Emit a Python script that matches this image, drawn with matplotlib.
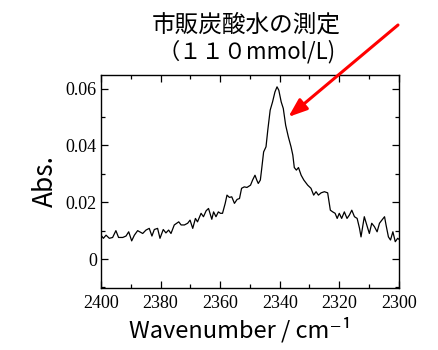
import matplotlib
matplotlib.use("Agg")
import matplotlib.pyplot as plt
from matplotlib.ticker import MultipleLocator

# spectrum (wavenumber / cm-1, absorbance)
wavenumber = [
    2400.0, 2399.2, 2398.3, 2397.2, 2396.1, 2395.0, 2394.1, 2392.7, 2391.6, 2390.7,
    2389.7, 2388.8, 2387.7, 2386.0, 2384.9, 2383.8, 2382.9, 2382.1, 2381.0, 2380.2,
    2379.1, 2378.2, 2377.3, 2376.5, 2375.4, 2373.9, 2373.1, 2372.0, 2370.9, 2370.1,
    2369.2, 2368.3, 2367.6, 2366.4, 2365.6, 2364.7, 2363.9, 2362.8, 2362.2, 2361.4,
    2360.6, 2359.9, 2359.2, 2358.3, 2357.7, 2356.9, 2356.1, 2355.2, 2354.3, 2353.5,
    2352.8, 2351.9, 2351.0, 2349.8, 2349.1, 2348.3, 2347.7, 2347.2, 2346.5, 2346.1,
    2345.4, 2344.6, 2344.0, 2343.2, 2342.4, 2341.6, 2340.9, 2340.3, 2339.5, 2338.8,
    2338.0, 2337.1, 2336.2, 2335.6, 2335.1, 2334.4, 2333.7, 2332.8, 2331.9, 2330.6,
    2329.5, 2328.6, 2327.8, 2327.0, 2326.1, 2325.0, 2323.9, 2323.0, 2322.2, 2321.4,
    2320.7, 2320.0, 2319.2, 2318.3, 2317.4, 2316.6, 2315.8, 2314.9, 2314.0, 2313.2,
    2312.7, 2311.6, 2310.6, 2309.9, 2309.1, 2308.2, 2307.3, 2306.5, 2305.7, 2304.8,
    2304.3, 2303.5, 2302.8, 2302.0, 2301.2, 2300.4, 2300.0,
]
absorbance = [
    0.0084, 0.0073, 0.0084, 0.0073, 0.0076, 0.0100, 0.0076, 0.0076, 0.0081, 0.0096,
    0.0064, 0.0084, 0.0100, 0.0090, 0.0102, 0.0108, 0.0081, 0.0104, 0.0108, 0.0073,
    0.0104, 0.0092, 0.0102, 0.0090, 0.0120, 0.0131, 0.0120, 0.0120, 0.0126, 0.0137,
    0.0108, 0.0143, 0.0131, 0.0161, 0.0149, 0.0170, 0.0178, 0.0140, 0.0166, 0.0149,
    0.0166, 0.0161, 0.0161, 0.0196, 0.0225, 0.0217, 0.0219, 0.0196, 0.0210, 0.0213,
    0.0249, 0.0254, 0.0252, 0.0260, 0.0278, 0.0295, 0.0278, 0.0266, 0.0278, 0.0313,
    0.0377, 0.0395, 0.0454, 0.0524, 0.0553, 0.0588, 0.0606, 0.0594, 0.0553, 0.0530,
    0.0471, 0.0430, 0.0395, 0.0366, 0.0322, 0.0313, 0.0322, 0.0295, 0.0278, 0.0260,
    0.0249, 0.0225, 0.0237, 0.0225, 0.0233, 0.0237, 0.0233, 0.0172, 0.0166, 0.0161,
    0.0143, 0.0161, 0.0143, 0.0166, 0.0143, 0.0155, 0.0172, 0.0149, 0.0143, 0.0108,
    0.0078, 0.0149, 0.0114, 0.0090, 0.0126, 0.0114, 0.0096, 0.0126, 0.0137, 0.0149,
    0.0120, 0.0078, 0.0067, 0.0096, 0.0061, 0.0073, 0.0070,
]

title_lines = ["市販炭酸水の測定", "（１１０mmol/L)"]
peak_label = (2337.1, 0.050)  # where the red arrow points

jp = ["Noto Sans CJK JP", "DejaVu Sans"]

fig = plt.figure(figsize=(4.38, 3.5), dpi=100)
ax = fig.add_axes([0.2306, 0.177, 0.680, 0.609])

ax.plot(wavenumber, absorbance, color="black", lw=0.9)

ax.set_xlim(2400, 2300)
ax.set_ylim(-0.0102, 0.0648)
ax.xaxis.set_major_locator(MultipleLocator(20))
ax.xaxis.set_minor_locator(MultipleLocator(10))
ax.yaxis.set_major_locator(MultipleLocator(0.02))
ax.yaxis.set_minor_locator(MultipleLocator(0.01))
ax.yaxis.set_major_formatter(lambda v, p: "0" if abs(v) < 1e-9 else f"{v:.2f}")
ax.tick_params(which="both", direction="in", top=True, right=True, width=0.9)
ax.tick_params(which="major", length=5, labelsize=13)
ax.tick_params(axis="x", which="major", pad=5)
ax.tick_params(axis="y", which="major", pad=3)
ax.tick_params(which="minor", length=3)
for lab in ax.get_xticklabels() + ax.get_yticklabels():
    lab.set_family("Liberation Serif")
for s in ax.spines.values():
    s.set_linewidth(1.0)

ax.set_xlabel("Wavenumber / cm⁻¹", family=jp, fontsize=17)
ax.xaxis.set_label_coords(0.466, -0.135)
ax.set_ylabel("Abs.", family=jp, fontsize=19, labelpad=5)

fig.text(246 / 438, 1 - 25 / 350, title_lines[0], family=jp, fontsize=17,
         ha="center", va="center")
fig.text(247 / 438, 1 - 52 / 350, title_lines[1], family=jp, fontsize=16,
         ha="center", va="center")

ax.annotate("", xy=peak_label, xycoords="data",
            xytext=(398 / 438, 1 - 25 / 350), textcoords="figure fraction",
            arrowprops=dict(arrowstyle="-|>,head_length=0.8,head_width=0.3",
                            color="red", lw=2.2, mutation_scale=14,
                            shrinkA=0, shrinkB=0),
            annotation_clip=False)

fig.savefig("out.png", dpi=100)
